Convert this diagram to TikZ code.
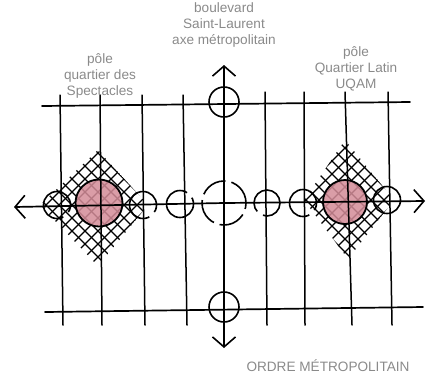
\documentclass[tikz,border=0pt]{standalone}
\usepackage{fontspec}
\setmainfont{Liberation Sans}
\usetikzlibrary{arrows.meta}
\definecolor{lblgray}{RGB}{138,138,138}
\definecolor{polepink}{RGB}{212,140,152}
\tikzset{
  road/.style={line width=1.7pt, line cap=round},
  street/.style={line width=1.5pt, line cap=round},
  ring/.style={circle, draw, line width=1.6pt, inner sep=0pt},
  brokenring/.style={ring, dash pattern=on 70pt off 7pt},
  bigring/.style={ring, dash pattern=on 27pt off 6pt, minimum size=44pt},
  polering/.style={circle, draw, line width=1.8pt, inner sep=0pt, minimum size=47pt},
  hatch/.style={line width=1.1pt},
  barb/.style={-{Straight Barb[length=10pt,width=23pt,line width=1.6pt]}},
  lbl/.style={text=lblgray, font=\fontsize{13.6}{16}\selectfont, align=center, inner sep=0pt}
}
\begin{document}
\begin{tikzpicture}[x=1pt,y=-1pt]
\useasboundingbox (0,0) rectangle (427,376);

% hatched diamonds
\begin{scope}
  \clip (98,150) -- (148,205) -- (98,266) -- (40,205) -- cycle;
  \foreach \k in {-130,-117,...,130} {
    \draw[hatch] (98+\k-90,205-90) -- (98+\k+90,205+90);
    \draw[hatch] (98+\k-90,205+90) -- (98+\k+90,205-90);
  }
\end{scope}
\begin{scope}
  \clip (345,140) -- (394,200) -- (348,259) -- (304,200) -- cycle;
  \foreach \k in {-130,-117,...,130} {
    \draw[hatch] (345+\k-90,200-90) -- (345+\k+90,200+90);
    \draw[hatch] (345+\k-90,200+90) -- (345+\k+90,200-90);
  }
\end{scope}

% pink pole fills
\fill[polepink, fill opacity=0.85] (99,203) circle (23.5pt);
\fill[polepink, fill opacity=0.85] (345,202) circle (22pt);

% coordinates
\coordinate (tl) at (42,106);  \coordinate (tr) at (410,102);
\coordinate (bl) at (45,312);  \coordinate (br) at (423,307);
\coordinate (al) at (14,207);  \coordinate (ar) at (425,201);
\coordinate (vt) at (224,65);  \coordinate (vb) at (224,348);
\coordinate (vc) at (224,203);

% streets
\foreach \xa/\xb/\ya [count=\i] in {60/63/95, 100/102/95, 142/145/95, 183/187/95, 265/267/92, 304/305/92, 345/352/92, 388/392/92} {
  \coordinate (s\i t) at (\xa,\ya);
  \coordinate (s\i b) at (\xb,325);
  \draw[street] (s\i t) -- (s\i b);
}

% roads
\draw[road] (tl) -- (tr);
\draw[road] (bl) -- (br);
\draw[road, barb] (vc) -- (vt);
\draw[road, barb] (vc) -- (vb);
\draw[road, barb] (vc) -- (al);
\draw[road, barb] (vc) -- (ar);

% rings
\node[ring, minimum size=30pt] (rt) at (224,102) {};
\node[ring, minimum size=30pt] (rb) at (224,307) {};
\node[bigring] (rc) at (224,203) {};
\node[brokenring, minimum size=27pt] (r1) at (57,205) {};
\node[polering] (p1) at (99,203) {};
\node[brokenring, minimum size=27pt] (r2) at (143,205) {};
\node[brokenring, minimum size=27pt, rotate=90] (r3) at (180,204) {};
\node[brokenring, minimum size=26pt, rotate=-90] (r4) at (267,203) {};
\node[brokenring, minimum size=27pt] (r5) at (303,203) {};
\node[polering, minimum size=44pt] (p2) at (345,202) {};
\node[ring, minimum size=27pt] (r6) at (387,200) {};

% labels
\node[lbl] (lblaxe) at (224,25) {boulevard\\Saint-Laurent\\axe métropolitain};
\node[lbl] (lblspec) at (100,76) {pôle\\quartier des\\Spectacles};
\node[lbl] (lbluqam) at (356,69) {pôle\\Quartier Latin\\UQAM};
\node[lbl] (lblordre) at (328,366) {ORDRE MÉTROPOLITAIN};
\end{tikzpicture}
\end{document}
